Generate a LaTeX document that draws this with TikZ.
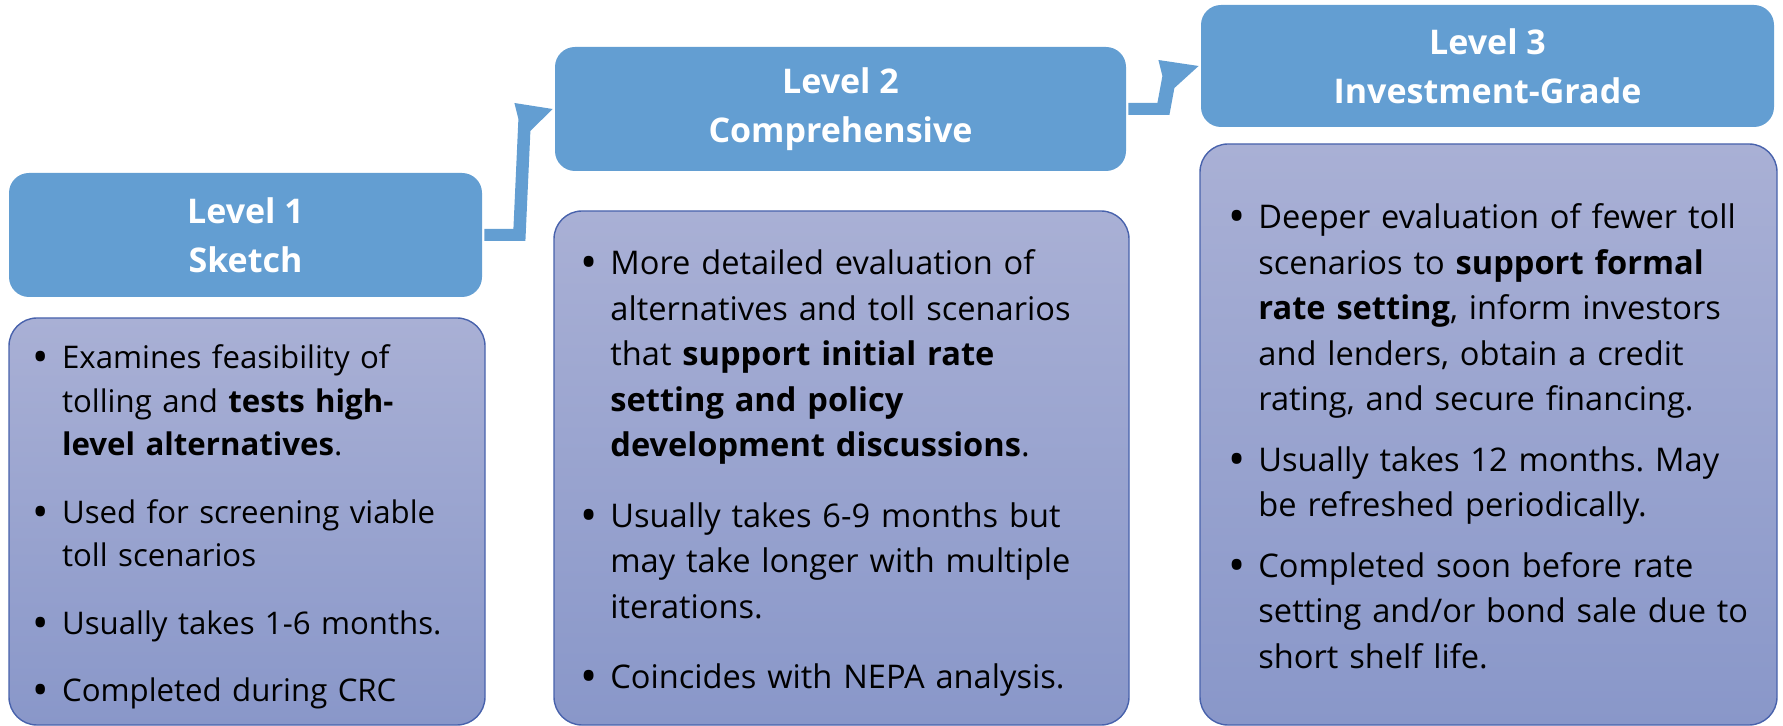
\documentclass[tikz,border=0pt]{standalone}
\usepackage{graphicx}
\usepackage{fontspec}
\setmainfont{Open Sans}
\usetikzlibrary{calc}

\definecolor{headblue}{RGB}{99,158,210}
\definecolor{bodytop}{RGB}{169,176,213}
\definecolor{bodybot}{RGB}{137,151,201}
\definecolor{bodyedge}{RGB}{72,98,172}

\newlength{\pointgap}
\newcommand{\bpoint}[1]{\leavevmode\llap{\raisebox{-1.8pt}{\scalebox{1.4}{\textbullet}}\hspace{6.5pt}}#1\par\vspace{\pointgap}}

% bent arrow from one level head to the next
\newcommand{\levelarrow}[2]{%
\fill[headblue] ($(#1.east)+(2,-6)$) -- ($(#1.east)+(31,-6)$) -- ($(#1.east|-#2.west)+(36,10)$)
  -- ($(#1.east|-#2.west)+(32,-6)$) -- ($(#2.west)+(-2,0)$) -- ($(#1.east|-#2.west)+(48,22)$)
  -- ($(#1.east)+(43,6)$) -- ($(#1.east)+(2,6)$) -- cycle;}

\begin{document}
\frenchspacing
\begin{tikzpicture}[x=0.5pt,y=-0.5pt,
  levelhead/.style={rectangle,rounded corners=10pt,fill=headblue,text=white,align=center,
    font=\fontsize{17pt}{24.5pt}\selectfont\bfseries,minimum height=62pt},
  levelbody/.style={rectangle,rounded corners=14pt,top color=bodytop,bottom color=bodybot,
    draw=bodyedge,line width=0.7pt},
  points/.style={anchor=base west,inner sep=0pt,text width=300pt,align=left}]
\useasboundingbox (0,0) rectangle (1783,726);

\node[levelhead,minimum width=236.5pt] (head1) at (245.5,235) {Level 1\\Sketch};
\node[levelhead,minimum width=285.5pt] (head2) at (840.5,109) {Level 2\\Comprehensive};
\node[levelhead,minimum width=286.5pt,minimum height=61pt] (head3) at (1487.5,66) {Level 3\\Investment-Grade};

\levelarrow{head1}{head2}
\levelarrow{head2}{head3}

\node[levelbody,minimum width=238pt,minimum height=203.5pt] (body1) at (247,521.5) {};
\node[levelbody,minimum width=287.5pt,minimum height=257pt] (body2) at (841.5,468) {};
\node[levelbody,minimum width=288.5pt,minimum height=290.5pt] (body3) at (1488.5,434.5) {};

\node[points,font=\fontsize{15.6pt}{21.75pt}\selectfont] (text1) at (61.7,369) {\setlength{\pointgap}{12pt}%
\bpoint{Examines feasibility of\\tolling and \textbf{tests high-\\level alternatives}.}
\bpoint{Used for screening viable\\toll scenarios}
\bpoint{Usually takes 1-6 months.}
\bpoint{Completed during CRC}};

\node[points,font=\fontsize{16.3pt}{22.75pt}\selectfont] (text2) at (610,275) {\setlength{\pointgap}{12.5pt}%
\bpoint{More detailed evaluation of\\alternatives and toll scenarios\\that \textbf{support initial rate\\setting and policy\\development discussions}.}
\bpoint{Usually takes 6-9 months but\\may take longer with multiple\\iterations.}
\bpoint{Coincides with NEPA analysis.}};

\node[points,font=\fontsize{16.3pt}{22.75pt}\selectfont] (text3) at (1258,229) {\setlength{\pointgap}{7.5pt}%
\bpoint{Deeper evaluation of fewer toll\\scenarios to \textbf{support formal\\rate setting}, inform investors\\and lenders, obtain a credit\\rating, and secure financing.}
\bpoint{Usually takes 12 months. May\\be refreshed periodically.}
\bpoint{Completed soon before rate\\setting and/or bond sale due to\\short shelf life.}};

\end{tikzpicture}
\end{document}
